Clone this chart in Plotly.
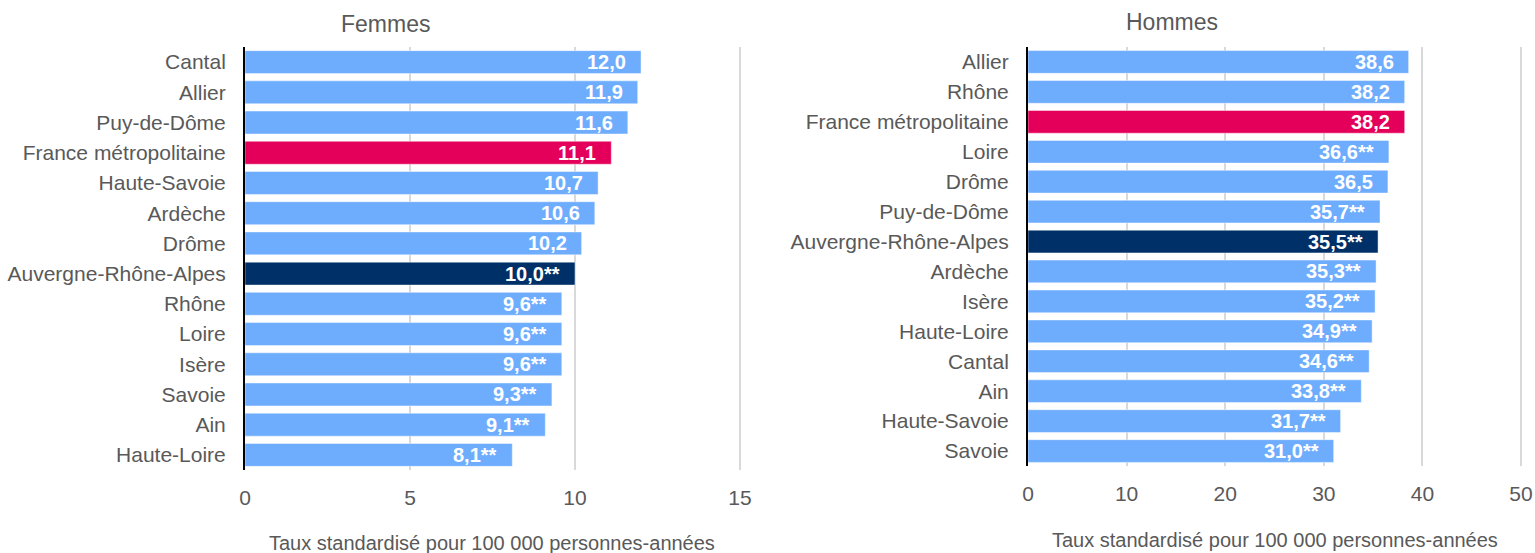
import plotly.graph_objects as go

# ---- data ----
femmes_cats = ["Cantal", "Allier", "Puy-de-Dôme", "France métropolitaine", "Haute-Savoie",
               "Ardèche", "Drôme", "Auvergne-Rhône-Alpes", "Rhône", "Loire", "Isère",
               "Savoie", "Ain", "Haute-Loire"]
femmes_vals = [12.0, 11.9, 11.6, 11.1, 10.7, 10.6, 10.2, 10.0, 9.6, 9.6, 9.6, 9.3, 9.1, 8.1]
femmes_sig = [False, False, False, False, False, False, False, True, True, True, True, True, True, True]

hommes_cats = ["Allier", "Rhône", "France métropolitaine", "Loire", "Drôme", "Puy-de-Dôme",
               "Auvergne-Rhône-Alpes", "Ardèche", "Isère", "Haute-Loire", "Cantal", "Ain",
               "Haute-Savoie", "Savoie"]
hommes_vals = [38.6, 38.2, 38.2, 36.6, 36.5, 35.7, 35.5, 35.3, 35.2, 34.9, 34.6, 33.8, 31.7, 31.0]
hommes_sig = [False, False, False, True, False, True, True, True, True, True, True, True, True, True]

femmes_ticks = [0, 5, 10, 15]
hommes_ticks = [0, 10, 20, 30, 40, 50]
axis_title = "Taux standardisé pour 100 000 personnes-années"

# ---- styles ----
C_LIGHT = "#6EADFE"
C_FRANCE = "#E4005A"
C_REGION = "#003068"
TXT = "#595959"
FONT = "Liberation Sans, Arial, sans-serif"


def color_for(cat):
    if cat == "France métropolitaine":
        return C_FRANCE
    if cat == "Auvergne-Rhône-Alpes":
        return C_REGION
    return C_LIGHT


def label(v, s):
    return f"{v:.1f}".replace(".", ",") + ("**" if s else "")


W, H = 1535, 553
fig = go.Figure()

panels = [
    (femmes_cats, femmes_vals, femmes_sig, "x", "y"),
    (hommes_cats, hommes_vals, hommes_sig, "x2", "y2"),
]
for cats, vals, sig, xa, ya in panels:
    fig.add_trace(go.Bar(
        x=vals, y=cats, orientation="h", xaxis=xa, yaxis=ya,
        marker=dict(color=[color_for(c) for c in cats],
                    line=dict(color="rgba(255,255,255,0.45)", width=1)),
        hoverinfo="skip", showlegend=False,
    ))
    for c, v, s in zip(cats, vals, sig):
        fig.add_annotation(
            x=v, y=c, xref=xa, yref=ya, text=label(v, s), showarrow=False,
            xanchor="right", yanchor="middle", xshift=-13,
            font=dict(family=FONT, size=20, color="white", weight="bold"),
        )

common_x = dict(showgrid=True, gridcolor="#D9D9D9", gridwidth=1.5, zeroline=False,
                showline=False, ticks="", tickfont=dict(family=FONT, size=21, color=TXT),
                ticklabelstandoff=13, fixedrange=True, automargin=False)
common_y = dict(autorange="reversed", showgrid=False, zeroline=False, showline=True,
                linecolor="black", linewidth=2, ticks="",
                tickfont=dict(family=FONT, size=21, color=TXT), ticklabelstandoff=13,
                fixedrange=True, automargin=False)

fig.update_layout(
    width=W, height=H, autosize=False,
    margin=dict(l=0, r=0, t=0, b=0, autoexpand=False),
    paper_bgcolor="white", plot_bgcolor="white",
    bargap=0.24,
    font=dict(family=FONT, color=TXT),
    xaxis=dict(domain=[245 / W, 742 / W], range=[0, 15.06], tickvals=femmes_ticks,
               anchor="y", **common_x),
    yaxis=dict(domain=[1 - 470 / H, 1 - 47 / H], anchor="x", **common_y),
    xaxis2=dict(domain=[1028 / W, 1524 / W], range=[0, 50.3], tickvals=hommes_ticks,
                anchor="y2", **common_x),
    yaxis2=dict(domain=[1 - 466 / H, 1 - 47 / H], anchor="x2", **common_y),
)

# titles
fig.add_annotation(x=385 / W, y=1 - 24 / H, xref="paper", yref="paper", text="Femmes",
                   showarrow=False, xanchor="center", yanchor="middle",
                   font=dict(family=FONT, size=23, color=TXT))
fig.add_annotation(x=1172 / W, y=1 - 22 / H, xref="paper", yref="paper", text="Hommes",
                   showarrow=False, xanchor="center", yanchor="middle",
                   font=dict(family=FONT, size=23, color=TXT))
# axis titles
fig.add_annotation(x=(245 + 740) / 2 / W, y=1 - 543 / H, xref="paper", yref="paper",
                   text=axis_title, showarrow=False, xanchor="center", yanchor="middle",
                   font=dict(family=FONT, size=20, color=TXT))
fig.add_annotation(x=(1028 + 1521) / 2 / W, y=1 - 540 / H, xref="paper", yref="paper",
                   text=axis_title, showarrow=False, xanchor="center", yanchor="middle",
                   font=dict(family=FONT, size=20, color=TXT))

fig.write_html(
    "out.html",
    config={"displayModeBar": False, "responsive": False},
    post_script="document.body.style.margin='0';document.body.style.overflow='hidden';",
)
